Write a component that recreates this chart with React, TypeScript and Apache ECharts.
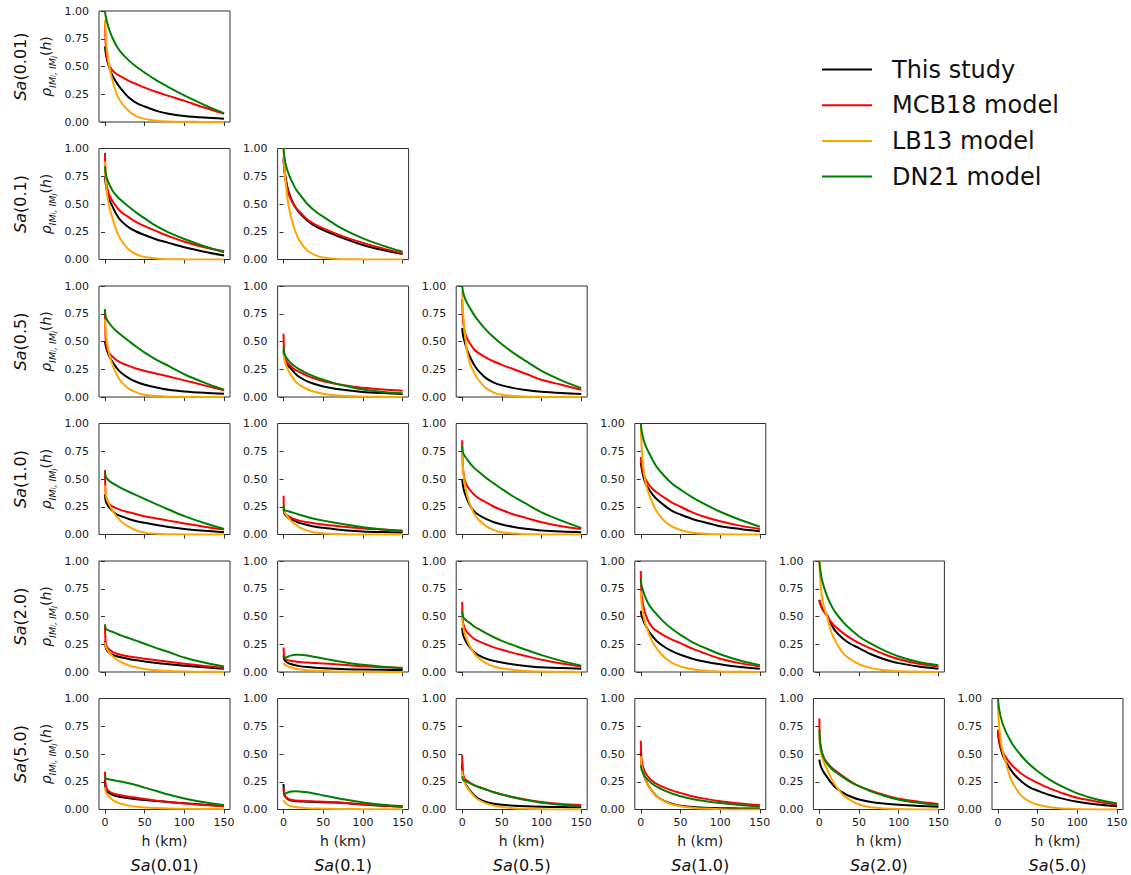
import React, { useEffect, useRef } from 'react';
import * as echarts from 'echarts';

// distance grid (km) shared by all curves
const H = [0, 1, 3, 6, 10, 15, 20, 30, 40, 50, 65, 80, 100, 125, 150];
const PERIODS = ['0.01', '0.1', '0.5', '1.0', '2.0', '5.0'];
const MODELS = ['This study', 'MCB18 model', 'LB13 model', 'DN21 model'];
const COLORS = ['#000000', '#ff0000', '#ffa500', '#008000'];
const X_TICKS = [0, 50, 100, 150];

// panel order: (0,0),(1,0),(1,1),(2,0),(2,1),(2,2),(3,0)..(3,3),(4,0)..(4,4),(5,0)..(5,5)
const THIS_STUDY = [
  [0.68, 0.62, 0.55, 0.48, 0.41, 0.35, 0.30, 0.22, 0.17, 0.14, 0.10, 0.075, 0.055, 0.04, 0.03],
  [0.75, 0.68, 0.6, 0.53, 0.47, 0.4, 0.35, 0.29, 0.25, 0.22, 0.18, 0.15, 0.11, 0.07, 0.036],
  [0.92, 0.82, 0.72, 0.62, 0.54, 0.47, 0.42, 0.35, 0.3, 0.265, 0.22, 0.18, 0.13, 0.085, 0.05],
  [0.5, 0.46, 0.41, 0.36, 0.31, 0.26, 0.22, 0.17, 0.135, 0.11, 0.085, 0.065, 0.05, 0.038, 0.03],
  [0.42, 0.36, 0.32, 0.28, 0.25, 0.21, 0.18, 0.14, 0.115, 0.095, 0.075, 0.06, 0.045, 0.035, 0.027],
  [0.62, 0.56, 0.5, 0.43, 0.36, 0.29, 0.24, 0.17, 0.13, 0.105, 0.08, 0.063, 0.048, 0.036, 0.027],
  [0.36, 0.3, 0.27, 0.24, 0.21, 0.18, 0.165, 0.14, 0.12, 0.105, 0.085, 0.068, 0.05, 0.033, 0.02],
  [0.23, 0.19, 0.17, 0.15, 0.135, 0.12, 0.105, 0.085, 0.07, 0.06, 0.047, 0.037, 0.028, 0.022, 0.018],
  [0.5, 0.44, 0.38, 0.32, 0.26, 0.21, 0.18, 0.14, 0.11, 0.09, 0.068, 0.052, 0.036, 0.026, 0.02],
  [0.65, 0.6, 0.53, 0.46, 0.41, 0.36, 0.32, 0.26, 0.21, 0.18, 0.14, 0.11, 0.075, 0.05, 0.03],
  [0.28, 0.22, 0.19, 0.17, 0.155, 0.142, 0.132, 0.117, 0.105, 0.095, 0.082, 0.07, 0.057, 0.042, 0.03],
  [0.15, 0.11, 0.095, 0.08, 0.07, 0.06, 0.053, 0.045, 0.039, 0.034, 0.029, 0.025, 0.022, 0.02, 0.018],
  [0.4, 0.34, 0.3, 0.26, 0.22, 0.18, 0.155, 0.12, 0.1, 0.085, 0.068, 0.055, 0.042, 0.035, 0.03],
  [0.55, 0.51, 0.47, 0.42, 0.37, 0.32, 0.28, 0.225, 0.185, 0.155, 0.12, 0.095, 0.07, 0.045, 0.03],
  [0.65, 0.62, 0.58, 0.55, 0.51, 0.43, 0.37, 0.3, 0.25, 0.215, 0.16, 0.12, 0.08, 0.05, 0.03],
  [0.27, 0.18, 0.16, 0.145, 0.13, 0.12, 0.112, 0.102, 0.093, 0.085, 0.076, 0.067, 0.056, 0.043, 0.03],
  [0.23, 0.13, 0.11, 0.09, 0.08, 0.075, 0.073, 0.07, 0.068, 0.066, 0.062, 0.056, 0.045, 0.034, 0.024],
  [0.42, 0.3, 0.25, 0.21, 0.17, 0.13, 0.1, 0.068, 0.052, 0.042, 0.034, 0.029, 0.025, 0.022, 0.02],
  [0.52, 0.4, 0.33, 0.27, 0.21, 0.16, 0.12, 0.075, 0.05, 0.035, 0.022, 0.016, 0.012, 0.01, 0.008],
  [0.45, 0.41, 0.37, 0.33, 0.29, 0.24, 0.2, 0.15, 0.115, 0.09, 0.068, 0.055, 0.042, 0.032, 0.025],
  [0.7, 0.63, 0.56, 0.49, 0.43, 0.37, 0.32, 0.25, 0.2, 0.17, 0.13, 0.1, 0.07, 0.045, 0.03],
];

const MCB18 = [
  [0.92, 0.7, 0.56, 0.5, 0.46, 0.43, 0.41, 0.37, 0.34, 0.31, 0.27, 0.235, 0.19, 0.13, 0.075],
  [0.96, 0.75, 0.64, 0.57, 0.52, 0.47, 0.43, 0.38, 0.335, 0.3, 0.255, 0.21, 0.16, 0.11, 0.075],
  [0.9, 0.8, 0.7, 0.6, 0.53, 0.47, 0.43, 0.36, 0.315, 0.28, 0.235, 0.195, 0.15, 0.1, 0.055],
  [0.79, 0.5, 0.43, 0.39, 0.36, 0.33, 0.31, 0.28, 0.255, 0.235, 0.21, 0.185, 0.15, 0.105, 0.06],
  [0.57, 0.38, 0.33, 0.3, 0.27, 0.245, 0.225, 0.19, 0.163, 0.142, 0.12, 0.102, 0.083, 0.068, 0.057],
  [0.88, 0.7, 0.6, 0.53, 0.48, 0.43, 0.4, 0.355, 0.32, 0.29, 0.25, 0.21, 0.155, 0.11, 0.066],
  [0.58, 0.35, 0.3, 0.27, 0.25, 0.235, 0.22, 0.2, 0.182, 0.165, 0.145, 0.125, 0.1, 0.07, 0.045],
  [0.35, 0.2, 0.18, 0.165, 0.15, 0.135, 0.125, 0.11, 0.1, 0.09, 0.078, 0.068, 0.055, 0.045, 0.036],
  [0.85, 0.6, 0.5, 0.44, 0.4, 0.36, 0.33, 0.29, 0.25, 0.22, 0.18, 0.15, 0.11, 0.075, 0.05],
  [0.7, 0.63, 0.56, 0.5, 0.45, 0.41, 0.38, 0.33, 0.285, 0.25, 0.2, 0.16, 0.12, 0.08, 0.05],
  [0.42, 0.26, 0.22, 0.2, 0.18, 0.165, 0.155, 0.14, 0.13, 0.12, 0.105, 0.092, 0.075, 0.055, 0.035],
  [0.22, 0.13, 0.115, 0.105, 0.1, 0.095, 0.09, 0.085, 0.08, 0.077, 0.07, 0.062, 0.052, 0.043, 0.035],
  [0.63, 0.45, 0.4, 0.36, 0.33, 0.3, 0.28, 0.25, 0.222, 0.2, 0.17, 0.145, 0.11, 0.077, 0.05],
  [0.91, 0.7, 0.6, 0.52, 0.45, 0.4, 0.37, 0.325, 0.29, 0.26, 0.21, 0.17, 0.12, 0.08, 0.05],
  [0.65, 0.62, 0.58, 0.54, 0.5, 0.45, 0.41, 0.35, 0.3, 0.26, 0.21, 0.165, 0.115, 0.075, 0.05],
  [0.34, 0.22, 0.18, 0.16, 0.145, 0.135, 0.128, 0.116, 0.105, 0.095, 0.08, 0.068, 0.053, 0.04, 0.03],
  [0.2, 0.13, 0.11, 0.095, 0.085, 0.08, 0.078, 0.075, 0.072, 0.07, 0.065, 0.058, 0.047, 0.036, 0.027],
  [0.49, 0.33, 0.28, 0.26, 0.24, 0.22, 0.205, 0.18, 0.155, 0.135, 0.11, 0.09, 0.067, 0.05, 0.04],
  [0.62, 0.45, 0.38, 0.33, 0.29, 0.255, 0.23, 0.197, 0.17, 0.15, 0.12, 0.098, 0.075, 0.055, 0.04],
  [0.82, 0.6, 0.52, 0.46, 0.42, 0.38, 0.35, 0.3, 0.25, 0.21, 0.17, 0.135, 0.097, 0.07, 0.05],
  [0.72, 0.65, 0.58, 0.52, 0.47, 0.42, 0.38, 0.32, 0.275, 0.24, 0.19, 0.15, 0.105, 0.07, 0.045],
];

const LB13 = [
  [0.92, 0.78, 0.62, 0.48, 0.36, 0.25, 0.18, 0.1, 0.05, 0.028, 0.012, 0.005, 0.002, 0.001, 0],
  [0.88, 0.72, 0.58, 0.46, 0.36, 0.25, 0.18, 0.09, 0.045, 0.022, 0.008, 0.003, 0.001, 0, 0],
  [1.0, 0.84, 0.67, 0.5, 0.37, 0.25, 0.17, 0.08, 0.04, 0.018, 0.006, 0.002, 0.001, 0, 0],
  [0.7, 0.58, 0.47, 0.37, 0.28, 0.2, 0.14, 0.075, 0.04, 0.02, 0.008, 0.003, 0.001, 0, 0],
  [0.4, 0.34, 0.29, 0.24, 0.19, 0.14, 0.11, 0.07, 0.045, 0.03, 0.015, 0.008, 0.003, 0.001, 0],
  [0.95, 0.78, 0.6, 0.42, 0.3, 0.22, 0.16, 0.08, 0.04, 0.02, 0.008, 0.003, 0.001, 0, 0],
  [0.44, 0.37, 0.31, 0.26, 0.21, 0.16, 0.12, 0.07, 0.035, 0.017, 0.006, 0.002, 0.001, 0, 0],
  [0.2, 0.2, 0.18, 0.15, 0.12, 0.09, 0.065, 0.035, 0.018, 0.009, 0.004, 0.001, 0, 0, 0],
  [0.74, 0.6, 0.47, 0.36, 0.27, 0.19, 0.14, 0.075, 0.04, 0.02, 0.008, 0.003, 0.001, 0, 0],
  [0.97, 0.8, 0.62, 0.47, 0.37, 0.28, 0.21, 0.12, 0.07, 0.04, 0.016, 0.006, 0.002, 0, 0],
  [0.27, 0.23, 0.2, 0.17, 0.14, 0.11, 0.09, 0.06, 0.04, 0.027, 0.015, 0.008, 0.004, 0.002, 0.001],
  [0.08, 0.07, 0.06, 0.05, 0.04, 0.03, 0.024, 0.016, 0.011, 0.008, 0.005, 0.003, 0.002, 0.001, 0.001],
  [0.5, 0.42, 0.35, 0.29, 0.23, 0.17, 0.13, 0.08, 0.05, 0.033, 0.018, 0.01, 0.005, 0.002, 0.001],
  [0.73, 0.62, 0.52, 0.43, 0.35, 0.27, 0.21, 0.13, 0.08, 0.05, 0.025, 0.012, 0.005, 0.002, 0.001],
  [1.0, 0.85, 0.69, 0.58, 0.49, 0.36, 0.28, 0.17, 0.11, 0.07, 0.035, 0.017, 0.006, 0.002, 0.001],
  [0.2, 0.16, 0.13, 0.11, 0.085, 0.065, 0.052, 0.035, 0.025, 0.019, 0.013, 0.009, 0.006, 0.004, 0.003],
  [0.085, 0.07, 0.055, 0.04, 0.03, 0.022, 0.017, 0.012, 0.009, 0.007, 0.005, 0.004, 0.003, 0.002, 0.002],
  [0.35, 0.3, 0.25, 0.2, 0.16, 0.12, 0.09, 0.055, 0.035, 0.022, 0.012, 0.007, 0.003, 0.001, 0.001],
  [0.48, 0.4, 0.33, 0.27, 0.21, 0.16, 0.12, 0.072, 0.045, 0.03, 0.015, 0.008, 0.003, 0.001, 0.001],
  [0.65, 0.55, 0.48, 0.42, 0.36, 0.28, 0.22, 0.13, 0.08, 0.045, 0.02, 0.01, 0.004, 0.001, 0.001],
  [0.95, 0.8, 0.65, 0.52, 0.42, 0.3, 0.22, 0.12, 0.07, 0.042, 0.02, 0.01, 0.004, 0.001, 0.001],
];

const DN21 = [
  [1.0, 0.95, 0.89, 0.82, 0.75, 0.68, 0.63, 0.555, 0.495, 0.445, 0.375, 0.315, 0.24, 0.155, 0.08],
  [0.84, 0.77, 0.72, 0.67, 0.615, 0.57, 0.535, 0.475, 0.42, 0.37, 0.3, 0.245, 0.185, 0.12, 0.066],
  [1.0, 0.93, 0.85, 0.78, 0.71, 0.64, 0.59, 0.5, 0.435, 0.385, 0.315, 0.255, 0.19, 0.125, 0.07],
  [0.79, 0.72, 0.69, 0.66, 0.625, 0.59, 0.56, 0.505, 0.45, 0.4, 0.335, 0.28, 0.205, 0.13, 0.066],
  [0.45, 0.39, 0.36, 0.33, 0.3, 0.272, 0.248, 0.21, 0.18, 0.155, 0.123, 0.097, 0.068, 0.046, 0.033],
  [1.0, 0.95, 0.9, 0.85, 0.8, 0.74, 0.69, 0.605, 0.535, 0.475, 0.395, 0.325, 0.235, 0.15, 0.08],
  [0.57, 0.52, 0.5, 0.48, 0.46, 0.44, 0.42, 0.385, 0.352, 0.32, 0.272, 0.225, 0.165, 0.103, 0.05],
  [0.26, 0.22, 0.215, 0.21, 0.2, 0.19, 0.178, 0.158, 0.14, 0.125, 0.105, 0.087, 0.066, 0.046, 0.03],
  [0.8, 0.74, 0.71, 0.68, 0.64, 0.6, 0.57, 0.51, 0.46, 0.41, 0.34, 0.28, 0.2, 0.125, 0.06],
  [1.0, 0.94, 0.87, 0.8, 0.74, 0.67, 0.61, 0.525, 0.455, 0.405, 0.335, 0.275, 0.205, 0.133, 0.07],
  [0.43, 0.39, 0.38, 0.37, 0.36, 0.345, 0.33, 0.305, 0.28, 0.255, 0.215, 0.18, 0.13, 0.085, 0.05],
  [0.15, 0.13, 0.13, 0.14, 0.15, 0.155, 0.155, 0.148, 0.135, 0.121, 0.101, 0.084, 0.065, 0.047, 0.035],
  [0.55, 0.5, 0.48, 0.46, 0.44, 0.41, 0.39, 0.35, 0.313, 0.28, 0.24, 0.2, 0.152, 0.1, 0.057],
  [0.84, 0.78, 0.73, 0.67, 0.61, 0.56, 0.52, 0.445, 0.385, 0.335, 0.27, 0.22, 0.16, 0.103, 0.06],
  [1.0, 0.93, 0.84, 0.76, 0.68, 0.6, 0.54, 0.45, 0.38, 0.32, 0.255, 0.2, 0.14, 0.09, 0.06],
  [0.31, 0.28, 0.275, 0.27, 0.265, 0.258, 0.252, 0.237, 0.218, 0.197, 0.166, 0.135, 0.1, 0.066, 0.04],
  [0.15, 0.14, 0.145, 0.155, 0.162, 0.165, 0.163, 0.155, 0.142, 0.127, 0.106, 0.086, 0.063, 0.043, 0.03],
  [0.3, 0.27, 0.26, 0.25, 0.235, 0.22, 0.205, 0.18, 0.156, 0.135, 0.108, 0.085, 0.061, 0.042, 0.03],
  [0.4, 0.36, 0.33, 0.29, 0.26, 0.23, 0.205, 0.17, 0.142, 0.12, 0.095, 0.077, 0.058, 0.04, 0.027],
  [0.72, 0.6, 0.52, 0.46, 0.41, 0.37, 0.34, 0.29, 0.245, 0.21, 0.163, 0.127, 0.088, 0.06, 0.04],
  [1.0, 0.93, 0.85, 0.77, 0.7, 0.63, 0.57, 0.48, 0.405, 0.345, 0.27, 0.21, 0.145, 0.09, 0.055],
];

const FONT = 'DejaVu Sans';

export default function App() {
  const ref = useRef<HTMLDivElement>(null);

  useEffect(() => {
    if (!ref.current) return;
    const chart = echarts.init(ref.current, null, { renderer: 'svg' });
    const modelData = [THIS_STUDY, MCB18, LB13, DN21];

    const panels: [number, number][] = [];
    for (let r = 0; r < 6; r++) for (let c = 0; c <= r; c++) panels.push([r, c]);

    const colLeft = (c: number) => 99 + 178.6 * c;
    const rowTop = (r: number) => 11 + 137.5 * r;
    const W = 131;
    const Hh = 111;

    const grids: any[] = [];
    const xAxes: any[] = [];
    const yAxes: any[] = [];
    const series: any[] = [];

    panels.forEach(([r, c], k) => {
      grids.push({
        left: colLeft(c), top: rowTop(r), width: W, height: Hh,
        show: true, borderColor: '#303030', borderWidth: 1, backgroundColor: 'transparent',
      });
      const bottom = r === 5;
      xAxes.push({
        type: 'value', gridIndex: k, min: -7.5, max: 157.5,
        axisLine: { show: false },
        axisTick: { show: true, inside: false, length: 4, customValues: X_TICKS, lineStyle: { color: '#303030' } },
        axisLabel: bottom
          ? { show: true, customValues: X_TICKS, margin: 7, fontSize: 11, fontFamily: FONT, color: '#1a1a1a' }
          : { show: false },
        splitLine: { show: false },
        name: bottom ? 'h (km)' : '',
        nameLocation: 'middle', nameGap: 24,
        nameTextStyle: { fontSize: 14, fontFamily: FONT, color: '#1a1a1a' },
      });
      yAxes.push({
        type: 'value', gridIndex: k, min: 0, max: 1, interval: 0.25,
        axisLine: { show: false },
        axisTick: { show: true, inside: false, length: 4, lineStyle: { color: '#303030' } },
        axisLabel: {
          margin: 10, fontSize: 11, fontFamily: FONT, color: '#1a1a1a',
          formatter: (v: number) => v.toFixed(2),
        },
        splitLine: { show: false },
        name: c === 0 ? '{r|ρ}{s|IM}{t|i}{s|, IM}{t|j}{n|(}{h|h}{n|)}' : '',
        nameLocation: 'middle', nameRotate: 90, nameGap: 42,
        nameTextStyle: {
          fontFamily: FONT, color: '#1a1a1a', fontSize: 13,
          rich: {
            r: { fontStyle: 'italic', fontSize: 14, fontFamily: FONT, lineHeight: 22, verticalAlign: 'middle' },
            s: { fontStyle: 'italic', fontSize: 9.5, fontFamily: FONT, lineHeight: 11, verticalAlign: 'bottom' },
            t: { fontStyle: 'italic', fontSize: 7, fontFamily: FONT, lineHeight: 7, verticalAlign: 'bottom' },
            n: { fontSize: 14, fontFamily: FONT, lineHeight: 22, verticalAlign: 'middle' },
            h: { fontStyle: 'italic', fontSize: 14, fontFamily: FONT, lineHeight: 22, verticalAlign: 'middle' },
          },
        },
      });
      modelData.forEach((md, m) => {
        series.push({
          type: 'line', name: MODELS[m], xAxisIndex: k, yAxisIndex: k,
          data: H.map((h, i) => [h, md[k][i]]),
          showSymbol: false, symbol: 'none', smooth: 0.3,
          lineStyle: { color: COLORS[m], width: 2, join: 'round', cap: 'butt' },
          itemStyle: { color: COLORS[m] },
          clip: true, silent: true, z: 2 + m,
        });
      });
    });

    const graphics: any[] = [];
    PERIODS.forEach((p, r) => {
      graphics.push({
        type: 'text', x: 20, y: rowTop(r) + Hh / 2, rotation: Math.PI / 2,
        style: {
          text: `{i|Sa}(${p})`, fontSize: 16, fontFamily: FONT, fill: '#111',
          align: 'center', verticalAlign: 'middle',
          rich: { i: { fontStyle: 'italic', fontSize: 16, fontFamily: FONT } },
        },
      });
      graphics.push({
        type: 'text', x: colLeft(r) + W / 2, y: 865,
        style: {
          text: `{i|Sa}(${p})`, fontSize: 16, fontFamily: FONT, fill: '#111',
          align: 'center', verticalAlign: 'middle',
          rich: { i: { fontStyle: 'italic', fontSize: 16, fontFamily: FONT } },
        },
      });
    });
    MODELS.forEach((name, m) => {
      const y = 69.5 + 35.7 * m;
      graphics.push({
        type: 'line', shape: { x1: 822, y1: y, x2: 872, y2: y },
        style: { stroke: COLORS[m], lineWidth: 2 },
      });
      graphics.push({
        type: 'text', x: 892, y,
        style: { text: name, fontSize: 24, fontFamily: FONT, fill: '#111', align: 'left', verticalAlign: 'middle' },
      });
    });

    chart.setOption({
      animation: false,
      backgroundColor: '#ffffff',
      textStyle: { fontFamily: FONT },
      grid: grids,
      xAxis: xAxes,
      yAxis: yAxes,
      series,
      graphic: graphics,
    });

    return () => chart.dispose();
  }, []);

  return (
    <div
      ref={ref}
      style={{ position: 'absolute', left: 0, top: 0, width: 1131, height: 875, background: '#fff' }}
    />
  );
}
